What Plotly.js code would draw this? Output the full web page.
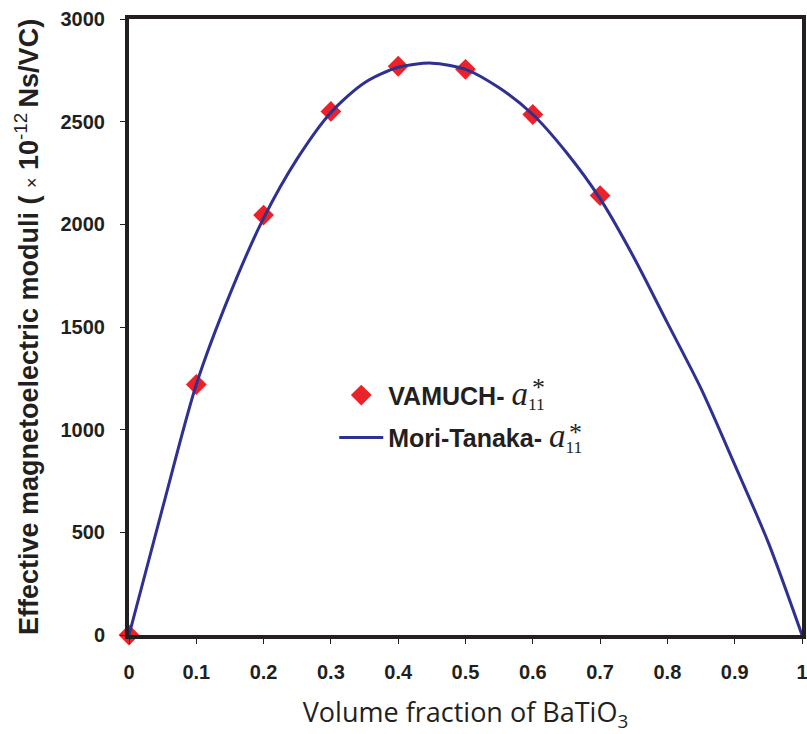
<!DOCTYPE html>
<html>
<head>
<meta charset="utf-8">
<script src="https://cdn.plot.ly/plotly-3.0.1.min.js"></script>
<style>
  html, body { margin: 0; padding: 0; background: #ffffff; }
  #chart { width: 807px; height: 734px; }
</style>
</head>
<body>
<div id="chart"></div>
<script>
// VAMUCH results (discrete points)
const vamuchFraction = [0, 0.1, 0.2, 0.3, 0.4, 0.5, 0.6, 0.7];
const vamuchA11 = [0, 1220, 2045, 2550, 2770, 2755, 2535, 2140];

// Mori-Tanaka prediction (continuous curve)
const mtFraction = [0, 0.05, 0.1, 0.15, 0.2, 0.25, 0.3, 0.35, 0.4, 0.45, 0.5,
                    0.55, 0.6, 0.65, 0.7, 0.75, 0.8, 0.85, 0.9, 0.95, 1.0];
const mtA11 = [0, 620, 1220, 1660, 2030, 2320, 2545, 2690, 2765, 2785, 2755,
               2665, 2535, 2350, 2125, 1840, 1520, 1200, 830, 450, 0];

const xTicks = [0, 0.1, 0.2, 0.3, 0.4, 0.5, 0.6, 0.7, 0.8, 0.9, 1];
const xTickText = ['0', '0.1', '0.2', '0.3', '0.4', '0.5', '0.6', '0.7', '0.8', '0.9', '1'];
const yTicks = [0, 500, 1000, 1500, 2000, 2500, 3000];

const ink = '#231f20';
const sansBold = '"Liberation Sans", Arial, sans-serif';
const serif = '\'Liberation Serif\',serif';
const symA11 = '<span style="font-family:' + serif + ';font-style:italic;font-weight:normal;font-size:33px">a</span>' +
               '<span style="font-family:' + serif + ';font-weight:normal;font-size:25px"><sub>11</sub></span>';

const traces = [
  {
    x: vamuchFraction, y: vamuchA11,
    type: 'scatter', mode: 'markers',
    name: '<b>VAMUCH- </b>' + symA11,
    legendgroup: 'vamuch',
    marker: { symbol: 'diamond', size: 16, color: '#ec2229' },
    cliponaxis: false
  },
  {
    x: mtFraction, y: mtA11,
    type: 'scatter', mode: 'lines',
    name: '<b>Mori-Tanaka- </b>' + symA11,
    legendgroup: 'mt',
    line: { color: '#2e3192', width: 3, shape: 'spline', smoothing: 0.8 }
  }
];

const axisCommon = {
  showgrid: false, zeroline: false,
  showline: true, mirror: true, linewidth: 4, linecolor: ink,
  ticks: 'outside', ticklen: 5, tickwidth: 1, tickcolor: ink,
  ticklabeloverflow: 'allow',
  tickfont: { family: sansBold, size: 20, color: ink, weight: 'bold' }
};

// superscript asterisks above the "11" subscripts in the legend
const starStyle = { family: 'Liberation Serif, serif', size: 26, color: ink };

const layout = {
  width: 807, height: 734,
  margin: { l: 129, r: 5, t: 19, b: 99 },
  paper_bgcolor: '#ffffff', plot_bgcolor: '#ffffff',
  showlegend: true,
  legend: {
    x: 0.305, y: 0.355, xanchor: 'left', yanchor: 'middle',
    bgcolor: 'rgba(0,0,0,0)', borderwidth: 0,
    itemwidth: 44, tracegroupgap: 7,
    font: { family: '"Liberation Sans", Arial, sans-serif', size: 25, color: ink }
  },
  xaxis: Object.assign({}, axisCommon, {
    range: [0, 1],
    tickmode: 'array', tickvals: xTicks, ticktext: xTickText,
    ticklabelstandoff: 11,
    title: {
      text: 'Volume fraction of BaTiO<sub>3</sub>',
      font: { family: '"Open Sans", "Liberation Sans", sans-serif', size: 27, color: ink },
      standoff: 23
    }
  }),
  yaxis: Object.assign({}, axisCommon, {
    range: [0, 3000],
    tickmode: 'array', tickvals: yTicks,
    ticklabelstandoff: 11,
    title: {
      text: '<b>Effective magnetoelectric moduli ( </b><span style="font-size:18px">×</span><b> 10</b><sup>-12 </sup><b>Ns/VC)</b>',
      font: { family: '"Liberation Sans", Arial, sans-serif', size: 27, color: ink },
      standoff: 15
    }
  }),
  annotations: [
    { xref: 'paper', yref: 'paper', x: 0.608, y: 0.401, text: '*', showarrow: false, font: starStyle },
    { xref: 'paper', yref: 'paper', x: 0.664, y: 0.302, text: '*', showarrow: false, font: starStyle }
  ]
};

Plotly.newPlot('chart', traces, layout, { displayModeBar: false, staticPlot: true });
</script>
</body>
</html>
